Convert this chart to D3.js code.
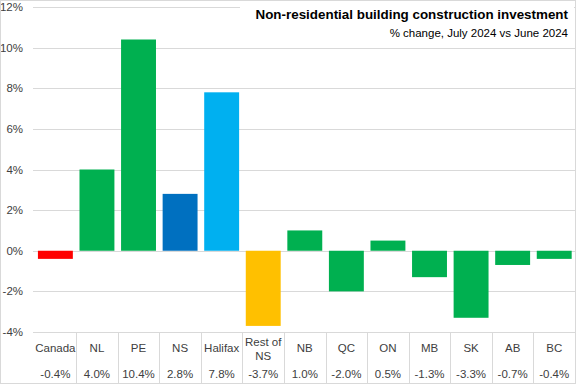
<!DOCTYPE html>
<html>
<head>
<meta charset="utf-8">
<script src="https://cdn.jsdelivr.net/npm/d3@7"></script>
<style>
  body { margin: 0; background: #fff; }
  svg text { font-family: "Liberation Sans", Arial, sans-serif; }
</style>
</head>
<body>
<svg id="chart"></svg>
<script>
const categories = ["Canada", "NL", "PE", "NS", "Halifax", "Rest of NS", "NB", "QC", "ON", "MB", "SK", "AB", "BC"];
const values = [-0.4, 4.0, 10.4, 2.8, 7.8, -3.7, 1.0, -2.0, 0.5, -1.3, -3.3, -0.7, -0.4];
const barColors = ["#FF0000", "#00B050", "#00B050", "#0070C0", "#00B0F0", "#FFC000", "#00B050", "#00B050", "#00B050", "#00B050", "#00B050", "#00B050", "#00B050"];
const yTicks = [-4, -2, 0, 2, 4, 6, 8, 10, 12];

const width = 577, height = 385;
const svg = d3.select("#chart").attr("width", width).attr("height", height);

const x = d3.scaleBand().domain(categories).range([34.6, 575]).paddingInner(0.16).paddingOuter(0.08);
const y = d3.scaleLinear().domain([-4, 12]).range([332, 7]);

// gridlines
svg.append("g").selectAll("line").data(yTicks).join("line")
    .attr("x1", 33).attr("x2", 575)
    .attr("y1", d => Math.round(y(d)) + 0.5).attr("y2", d => Math.round(y(d)) + 0.5)
    .attr("stroke", "#d9d9d9").attr("stroke-width", 1);

// y tick labels
svg.append("g").selectAll("text").data(yTicks).join("text")
    .attr("x", 23).attr("y", d => y(d)).attr("dy", "0.35em")
    .attr("text-anchor", "end").attr("font-size", 11.5).attr("fill", "#404040")
    .text(d => d + "%");

// bars
svg.append("g").selectAll("rect").data(values).join("rect")
    .attr("x", (d, i) => x(categories[i]))
    .attr("width", x.bandwidth())
    .attr("y", d => y(Math.max(0, d)))
    .attr("height", d => Math.abs(y(d) - y(0)))
    .attr("fill", (d, i) => barColors[i]);

// table separators
const step = x.step();
const x0 = x.range()[0];
svg.append("g").selectAll("line").data(d3.range(1, categories.length)).join("line")
    .attr("x1", i => Math.round(x0 + i * step) + 0.5).attr("x2", i => Math.round(x0 + i * step) + 0.5)
    .attr("y1", 332).attr("y2", 384)
    .attr("stroke", "#d9d9d9");

// category labels + values
const labels = svg.append("g").attr("font-size", 11.5).attr("fill", "#404040").attr("text-anchor", "middle");
categories.forEach((c, i) => {
  const cx = x(c) + x.bandwidth() / 2;
  const t = labels.append("text").attr("x", cx);
  if (c === "Rest of NS") {
    t.append("tspan").attr("x", cx).attr("y", 346).text("Rest of");
    t.append("tspan").attr("x", cx).attr("y", 360).text("NS");
  } else {
    t.attr("y", 352).text(c);
  }
  labels.append("text").attr("x", cx).attr("y", 378).text(values[i].toFixed(1) + "%");
});

// title box
const tb = svg.append("g");
tb.append("rect").attr("x", 240).attr("y", 2).attr("width", 334).attr("height", 40).attr("fill", "#fff");
tb.append("text").attr("x", 568).attr("y", 19).attr("text-anchor", "end")
    .attr("font-size", 13.4).attr("font-weight", "bold").attr("fill", "#000")
    .text("Non-residential building construction investment");
tb.append("text").attr("x", 568).attr("y", 37).attr("text-anchor", "end")
    .attr("font-size", 11.5).attr("fill", "#000")
    .text("% change, July 2024 vs June 2024");

// outer border
svg.append("rect").attr("x", 0.5).attr("y", 0.5).attr("width", 575).attr("height", 383)
    .attr("fill", "none").attr("stroke", "#d9d9d9");
</script>
</body>
</html>
